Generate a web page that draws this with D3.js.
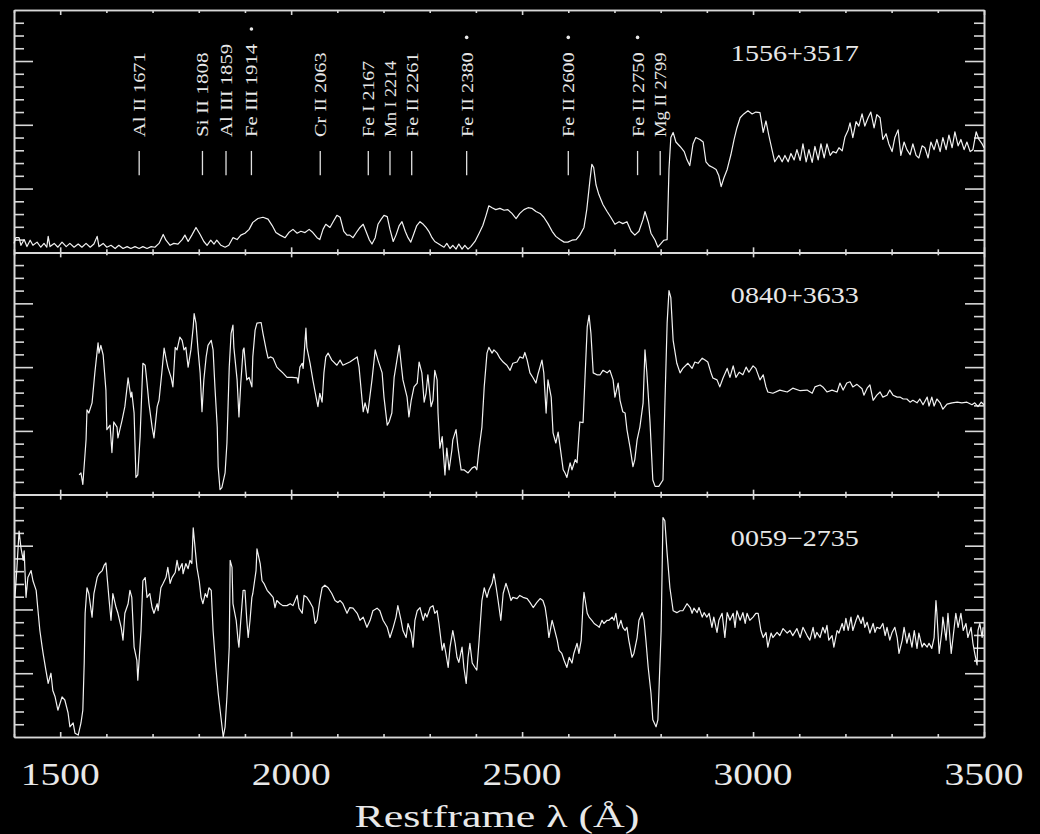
<!DOCTYPE html>
<html>
<head>
<meta charset="utf-8">
<script src="https://cdn.jsdelivr.net/npm/d3@7"></script>
<style>
    body { margin: 0; background: #000; }
    #chart-area { width: 1040px; height: 834px; }
    text { fill: #e8e8e8; font-family: "Liberation Serif", "DejaVu Serif", serif; }
</style>
</head>
<body>
<div id="chart-area"></div>
<script>

// Object names, top to bottom
const objectNames = ["1556+3517", "0840+3633", "0059\u22122735"];

// Absorption line identifications (top panel)
const lineNames = ["Al II 1671", "Si II 1808", "Al III 1859", "Fe III 1914 *", "Cr II 2063", "Fe I 2167",
    "Mn I 2214", "Fe II 2261", "Fe II 2380 *", "Fe II 2600 *", "Fe II 2750 *", "Mg II 2799"];
const lineWaves = [1671, 1808, 1859, 1914, 2063, 2167, 2214, 2261, 2380, 2600, 2750, 2799];

// Tick labels for the wavelength axis
const xTickLabels = [1500, 2000, 2500, 3000, 3500];

// 1556+3517 spectrum (restframe wavelength, relative flux)
const wave1556 = [1400,1404,1411,1415,1422,1428,1435,1441,1450,1458,1465,1471,1474,1478,1487,1495,1504,1513,1521,1530,
    1539,1547,1556,1565,1573,1580,1584,1593,1601,1610,1619,1627,1636,1645,1653,1662,1671,1679,1688,1697,
    1705,1714,1723,1729,1738,1746,1755,1764,1770,1777,1785,1794,1803,1811,1818,1826,1833,1839,1848,1857,
    1865,1874,1883,1891,1900,1909,1917,1928,1939,1950,1959,1967,1976,1987,1995,2004,2013,2021,2030,2039,
    2047,2056,2062,2069,2075,2084,2091,2099,2106,2114,2121,2127,2134,2143,2149,2156,2162,2169,2175,2182,
    2188,2195,2201,2208,2214,2221,2227,2234,2240,2247,2253,2259,2266,2272,2279,2286,2292,2298,2305,2311,
    2318,2324,2331,2337,2344,2350,2357,2363,2370,2376,2383,2389,2398,2407,2415,2422,2428,2435,2443,2452,
    2461,2469,2478,2487,2495,2504,2513,2521,2530,2539,2547,2556,2565,2573,2582,2591,2599,2608,2617,2625,
    2634,2640,2647,2651,2655,2660,2666,2675,2684,2692,2701,2710,2718,2727,2736,2744,2753,2762,2766,2773,
    2779,2788,2794,2801,2807,2814,2818,2822,2827,2833,2842,2851,2857,2863,2870,2876,2885,2892,2898,2905,
    2913,2920,2926,2931,2937,2944,2952,2959,2965,2972,2980,2989,2998,3006,3015,3022,3028,3034,3041,3047,
    3056,3063,3069,3076,3082,3089,3095,3102,3108,3115,3121,3128,3134,3141,3147,3154,3160,3167,3173,3180,
    3186,3193,3199,3206,3210,3216,3223,3229,3236,3242,3249,3255,3262,3268,3275,3281,3288,3294,3301,3307,
    3314,3320,3327,3333,3340,3346,3353,3359,3366,3372,3379,3385,3392,3398,3405,3411,3418,3424,3431,3437,
    3444,3450,3457,3463,3470,3476,3483,3489,3496,3500];
const flux1556 = [0.14,0.23,0.23,0.11,0.20,0.09,0.19,0.11,0.16,0.08,0.14,0.08,0.25,0.09,0.14,0.08,0.16,0.09,0.14,0.08,
    0.13,0.08,0.14,0.08,0.13,0.25,0.09,0.14,0.08,0.11,0.06,0.11,0.06,0.09,0.06,0.09,0.06,0.09,0.06,0.09,
    0.08,0.14,0.28,0.19,0.11,0.14,0.13,0.20,0.27,0.17,0.27,0.39,0.28,0.17,0.11,0.19,0.13,0.19,0.11,0.08,
    0.11,0.23,0.20,0.27,0.30,0.36,0.47,0.53,0.55,0.52,0.42,0.31,0.27,0.23,0.31,0.36,0.30,0.33,0.31,0.36,
    0.31,0.23,0.20,0.36,0.44,0.39,0.48,0.58,0.55,0.33,0.27,0.27,0.23,0.33,0.39,0.44,0.33,0.20,0.13,0.23,
    0.44,0.52,0.58,0.56,0.36,0.17,0.27,0.42,0.48,0.33,0.23,0.16,0.30,0.42,0.48,0.44,0.39,0.33,0.23,0.17,
    0.14,0.11,0.08,0.14,0.06,0.11,0.05,0.13,0.05,0.11,0.05,0.09,0.17,0.30,0.42,0.58,0.73,0.70,0.67,0.69,
    0.66,0.67,0.61,0.53,0.61,0.67,0.70,0.69,0.64,0.61,0.55,0.45,0.33,0.25,0.20,0.16,0.16,0.19,0.20,0.27,
    0.39,0.67,1.14,1.38,1.33,1.06,0.91,0.75,0.64,0.55,0.44,0.48,0.45,0.48,0.33,0.27,0.33,0.52,0.64,0.48,
    0.30,0.19,0.08,0.14,0.19,0.20,1.30,1.80,1.88,1.73,1.66,1.58,1.45,1.36,1.70,1.80,1.77,1.73,1.42,1.36,
    1.33,1.30,1.20,1.03,1.17,1.30,1.53,1.77,1.95,2.11,2.17,2.22,2.17,2.20,2.19,1.88,2.06,1.84,1.61,1.42,
    1.52,1.42,1.52,1.42,1.55,1.45,1.61,1.44,1.70,1.42,1.61,1.41,1.66,1.45,1.70,1.48,1.70,1.52,1.58,1.56,
    1.64,1.59,1.81,1.92,2.03,1.80,2.05,1.98,2.17,1.98,2.11,2.20,1.95,2.16,2.11,1.77,1.86,1.70,1.58,1.80,
    1.92,1.52,1.73,1.61,1.53,1.70,1.52,1.48,1.67,1.64,1.48,1.73,1.61,1.77,1.58,1.80,1.61,1.84,1.64,1.89,
    1.67,1.77,1.61,1.73,1.58,1.61,1.89,1.77,1.70,1.64];

// 0840+3633 spectrum
const wave0840 = [1541,1545,1549,1556,1558,1562,1569,1575,1582,1584,1588,1593,1599,1601,1608,1612,1616,1623,1625,1634,
    1640,1647,1653,1655,1660,1664,1668,1673,1679,1684,1688,1692,1699,1703,1710,1714,1720,1725,1729,1733,
    1740,1744,1749,1753,1759,1764,1768,1772,1777,1783,1788,1790,1794,1798,1803,1807,1811,1816,1820,1827,
    1831,1835,1840,1842,1846,1850,1857,1861,1866,1870,1874,1876,1883,1887,1891,1896,1898,1902,1904,1909,
    1915,1917,1922,1926,1935,1939,1946,1950,1956,1961,1969,1976,1982,1991,2002,2013,2015,2019,2024,2026,
    2032,2034,2041,2047,2054,2058,2062,2067,2071,2075,2080,2088,2099,2106,2112,2127,2143,2147,2153,2156,
    2160,2166,2175,2182,2188,2197,2201,2208,2212,2218,2223,2229,2234,2238,2242,2251,2255,2260,2266,2273,
    2277,2283,2288,2292,2296,2303,2307,2311,2316,2318,2322,2327,2333,2337,2342,2348,2350,2357,2361,2368,
    2374,2383,2392,2398,2402,2407,2413,2418,2424,2428,2435,2439,2446,2452,2459,2467,2474,2480,2489,2495,
    2502,2506,2511,2517,2524,2530,2534,2543,2547,2552,2556,2563,2567,2573,2578,2584,2589,2593,2597,2604,
    2608,2615,2619,2625,2632,2636,2641,2645,2649,2654,2662,2669,2675,2684,2690,2697,2701,2708,2712,2718,
    2723,2727,2734,2740,2744,2749,2755,2762,2766,2770,2777,2783,2788,2796,2805,2809,2814,2818,2822,2827,
    2835,2842,2848,2859,2868,2874,2881,2890,2896,2902,2909,2913,2922,2928,2935,2944,2950,2957,2963,2970,
    2978,2985,2991,3000,3006,3015,3022,3028,3032,3043,3058,3074,3086,3102,3117,3128,3134,3145,3151,3160,
    3171,3182,3188,3195,3203,3210,3216,3225,3236,3240,3247,3253,3260,3268,3275,3281,3290,3296,3303,3312,
    3318,3325,3333,3340,3346,3355,3361,3368,3377,3381,3387,3392,3398,3405,3411,3420,3431,3442,3452,3463,
    3474,3480,3487,3494,3500];
const flux0840 = [0.31,0.34,0.16,0.86,1.33,1.28,1.44,1.91,2.38,2.22,2.34,2.19,1.64,1.02,1.09,0.66,1.14,1.06,0.89,1.17,
    1.38,1.83,1.53,1.61,1.28,0.27,0.31,0.91,2.06,2.03,1.75,1.44,1.06,0.89,1.38,1.48,1.91,2.30,2.14,2.00,
    1.84,1.69,2.31,2.27,2.47,2.42,2.27,2.31,2.00,2.27,2.63,2.84,2.69,2.31,1.91,1.30,1.80,2.16,2.34,2.42,
    2.27,1.69,1.06,0.44,0.08,0.11,0.34,0.81,2.00,2.53,2.66,2.31,1.80,1.22,1.75,2.27,2.30,1.95,1.80,1.84,
    1.69,2.16,2.58,2.69,2.70,2.53,2.27,2.14,2.16,2.14,2.00,1.95,1.91,1.84,1.84,1.83,1.75,2.00,2.06,1.98,
    2.61,2.31,2.06,1.80,1.53,1.38,1.59,1.45,1.91,2.16,2.22,2.11,2.03,2.11,2.03,2.08,2.16,2.00,1.53,1.30,
    1.44,1.28,1.80,2.27,2.11,1.91,1.53,1.09,1.14,1.28,1.84,2.11,2.34,2.06,1.80,1.53,1.22,1.48,1.69,1.75,
    2.08,1.91,1.45,1.59,1.88,1.38,1.48,1.95,1.80,1.28,0.73,0.91,0.31,0.73,0.39,0.70,0.86,1.02,0.75,0.39,
    0.39,0.34,0.42,0.44,0.39,0.73,1.06,1.69,2.22,2.31,2.22,2.27,2.22,2.14,2.08,2.03,1.95,2.06,2.08,2.16,
    2.14,2.23,2.11,1.91,1.83,1.75,1.88,2.11,1.91,1.28,1.80,1.53,0.97,0.81,0.98,0.66,0.39,0.34,0.27,0.50,
    0.39,0.55,0.50,1.14,1.13,1.80,2.63,2.81,2.53,1.91,1.88,1.88,1.95,1.91,1.95,1.80,1.53,1.75,1.48,1.30,
    1.28,1.02,0.73,0.44,0.55,0.86,1.06,1.44,2.27,1.92,1.13,0.23,0.13,0.13,0.23,1.38,2.69,3.20,3.09,2.42,
    2.06,1.91,1.98,2.06,1.98,2.08,2.06,2.14,2.11,2.08,1.91,1.83,1.80,1.69,1.83,1.98,1.84,2.02,1.84,1.92,
    1.88,2.00,1.92,2.02,1.98,1.80,1.88,1.69,1.61,1.59,1.64,1.61,1.67,1.63,1.64,1.59,1.69,1.72,1.69,1.61,
    1.64,1.61,1.75,1.64,1.75,1.77,1.69,1.73,1.66,1.56,1.67,1.72,1.48,1.56,1.61,1.53,1.56,1.64,1.56,1.53,
    1.53,1.50,1.50,1.45,1.48,1.44,1.50,1.41,1.53,1.39,1.53,1.39,1.50,1.44,1.34,1.42,1.44,1.45,1.44,1.45,
    1.41,1.44,1.38,1.45,1.41];

// 0059-2735 spectrum
const wave0059 = [1402,1406,1411,1415,1420,1422,1426,1430,1437,1441,1448,1452,1456,1461,1463,1469,1474,1480,1484,1489,
    1495,1504,1510,1517,1521,1528,1532,1539,1545,1549,1552,1554,1558,1562,1569,1573,1580,1584,1591,1595,
    1599,1601,1606,1610,1614,1621,1625,1632,1636,1640,1647,1651,1655,1660,1666,1668,1675,1679,1684,1688,
    1694,1699,1703,1710,1712,1718,1723,1729,1733,1738,1742,1749,1753,1757,1764,1766,1772,1777,1781,1785,
    1788,1792,1796,1801,1805,1809,1814,1818,1822,1827,1831,1837,1842,1848,1853,1857,1861,1866,1868,1872,
    1874,1881,1885,1887,1891,1896,1900,1904,1907,1911,1915,1917,1924,1926,1933,1937,1941,1948,1954,1961,
    1965,1969,1976,1982,1991,1998,2004,2013,2017,2024,2028,2034,2041,2047,2052,2056,2062,2067,2073,2080,
    2088,2095,2101,2106,2112,2121,2127,2134,2143,2149,2156,2164,2171,2177,2186,2192,2199,2208,2214,2221,
    2227,2231,2238,2242,2249,2253,2260,2264,2268,2273,2279,2286,2290,2294,2301,2307,2311,2316,2320,2327,
    2331,2335,2340,2344,2350,2355,2359,2363,2370,2374,2379,2383,2387,2392,2398,2402,2407,2413,2418,2424,
    2428,2435,2439,2444,2448,2454,2459,2465,2470,2476,2480,2489,2495,2502,2511,2517,2524,2532,2539,2545,
    2550,2554,2558,2565,2569,2576,2580,2586,2591,2597,2602,2608,2612,2619,2623,2628,2632,2634,2641,2645,
    2651,2656,2662,2667,2673,2677,2684,2688,2695,2699,2703,2708,2714,2718,2723,2727,2731,2738,2742,2749,
    2753,2760,2764,2768,2773,2779,2783,2790,2794,2801,2805,2809,2814,2820,2827,2835,2842,2848,2857,2864,
    2868,2872,2879,2883,2890,2894,2900,2905,2911,2915,2922,2926,2933,2939,2944,2950,2957,2961,2965,2972,
    2978,2983,2987,2993,3000,3006,3011,3017,3022,3028,3032,3039,3043,3052,3058,3065,3074,3080,3086,3095,
    3102,3108,3117,3123,3130,3134,3138,3145,3151,3156,3160,3164,3171,3175,3182,3186,3193,3197,3201,3206,
    3212,3216,3223,3227,3234,3238,3242,3247,3253,3260,3264,3268,3275,3281,3286,3290,3296,3301,3307,3312,
    3316,3323,3327,3333,3338,3344,3349,3355,3359,3366,3370,3377,3381,3387,3392,3396,3398,3403,3409,3411,
    3418,3422,3429,3433,3439,3444,3450,3455,3461,3465,3472,3476,3480,3485,3487,3491,3496,3498];
const flux0059 = [2.19,2.61,3.23,2.97,2.77,2.92,2.19,2.50,2.61,2.45,2.30,1.98,1.67,1.41,1.31,1.05,0.84,1.00,0.73,0.63,
    0.42,0.63,0.58,0.38,0.16,0.22,0.06,0.03,0.22,0.42,1.16,1.94,2.34,2.25,1.88,2.25,2.50,2.56,2.61,2.69,
    2.73,2.56,2.14,1.83,2.25,2.03,1.94,1.72,1.52,1.94,2.09,2.30,2.19,1.41,1.20,0.89,1.67,2.45,2.50,2.19,
    2.25,2.03,1.94,2.09,1.98,2.34,2.41,2.50,2.66,2.41,2.50,2.58,2.77,2.61,2.72,2.56,2.72,2.64,2.77,2.72,
    3.28,2.97,2.66,2.45,2.19,2.09,2.25,2.19,2.34,2.30,1.67,1.09,0.69,0.31,0.00,0.16,0.63,1.41,2.77,2.66,
    2.09,1.83,1.52,1.41,1.83,2.30,2.30,1.83,1.56,1.83,2.19,2.25,2.61,2.95,2.72,2.45,2.41,2.30,2.25,2.19,
    2.03,2.14,2.09,2.06,2.06,2.09,2.06,2.22,2.02,1.94,2.22,2.19,2.11,2.03,1.78,1.83,2.14,2.34,2.38,2.34,
    2.25,2.14,2.11,2.14,2.09,1.94,2.03,2.02,1.94,1.83,1.88,1.72,1.83,1.98,2.02,1.98,1.83,1.72,1.56,1.72,
    1.88,2.06,1.83,1.67,1.56,1.78,1.63,1.41,1.83,1.98,2.03,1.83,1.94,1.88,2.03,2.06,1.94,1.98,1.78,1.36,
    1.47,1.31,1.09,1.41,1.67,1.47,1.25,1.17,1.41,1.09,0.84,1.25,1.47,1.16,1.09,1.05,1.52,2.14,2.34,2.19,
    2.30,2.41,2.56,2.34,2.14,1.83,2.25,2.41,2.30,2.14,2.19,2.17,2.22,2.19,2.17,2.11,2.03,2.11,2.17,2.14,
    2.03,1.83,1.56,1.83,1.72,1.52,1.36,1.31,1.20,1.09,1.25,1.16,1.31,1.47,1.31,1.52,2.09,2.27,1.94,1.88,
    1.83,1.78,1.75,1.72,1.83,1.78,1.83,1.83,1.88,1.83,1.94,1.70,1.83,1.72,1.67,1.72,1.52,1.25,1.31,1.56,
    1.83,1.95,1.83,1.52,1.09,0.69,0.27,0.16,0.27,1.67,3.44,3.39,2.88,2.34,1.98,1.95,1.98,1.98,2.09,2.03,
    1.94,2.02,1.95,2.03,1.88,1.95,1.88,1.94,1.72,1.88,1.64,1.83,1.94,1.56,1.95,1.83,1.94,1.72,1.98,1.83,
    1.95,1.78,1.94,1.83,1.88,1.94,1.94,1.67,1.56,1.64,1.41,1.63,1.56,1.64,1.59,1.70,1.63,1.67,1.59,1.70,
    1.56,1.72,1.59,1.52,1.72,1.55,1.64,1.56,1.72,1.63,1.75,1.52,1.59,1.41,1.67,1.63,1.78,1.67,1.86,1.67,
    1.88,1.67,1.83,1.91,1.78,1.88,1.72,1.80,1.63,1.78,1.64,1.72,1.70,1.78,1.59,1.72,1.52,1.64,1.72,1.56,
    1.31,1.52,1.72,1.47,1.63,1.41,1.67,1.39,1.63,1.41,1.47,1.41,1.47,1.39,1.56,2.14,1.94,1.31,1.67,1.88,
    1.52,1.94,1.31,1.56,1.94,1.72,1.94,1.67,1.78,1.56,1.72,1.47,1.31,1.13,1.67,1.78,1.56,1.72];


class SpectraVis {

    constructor(parentElement) {
        this.parentElement = parentElement;
        this.initVis();
    }

    initVis() {
        let vis = this;

        vis.margin = {top: 10, right: 56, bottom: 97, left: 14};
        vis.width = 1040 - vis.margin.left - vis.margin.right;
        vis.height = 834 - vis.margin.top - vis.margin.bottom;
        vis.panelHeight = vis.height / 3;

        vis.svg = d3.select(`#${vis.parentElement}`).append("svg")
            .attr("width", 1040)
            .attr("height", 834)
            .style("background", "#000")
            .append("g")
            .attr("transform", `translate(${vis.margin.left},${vis.margin.top})`);

        // Scales
        vis.x = d3.scaleLinear().domain([1400, 3500]).range([0, vis.width]);
        vis.y = d3.scaleLinear().domain([0, 3.8]).range([vis.panelHeight, 0]);

        vis.xMajor = d3.range(1500, 3501, 500);
        vis.xMinor = d3.range(1400, 3501, 100).filter(d => d % 500 !== 0);
        vis.yMajor = [1, 2, 3];
        vis.yMinor = d3.range(1, 19).filter(i => i % 5 !== 0).map(i => i / 5);

        vis.line = d3.line()
            .x(d => vis.x(d[0]))
            .y(d => vis.y(d[1]));

        vis.wrangleData();
    }

    wrangleData() {
        let vis = this;

        vis.spectra = [
            {name: objectNames[0], points: d3.zip(wave1556, flux1556)},
            {name: objectNames[1], points: d3.zip(wave0840, flux0840)},
            {name: objectNames[2], points: d3.zip(wave0059, flux0059)}
        ];

        // split off the trailing asterisk so it can be drawn small
        vis.lineIds = lineNames.map((n, i) => ({
            label: n.replace(" *", ""),
            star: n.endsWith("*"),
            wave: lineWaves[i]
        }));

        vis.updateVis();
    }

    // inward-pointing ticks on all four sides of a panel
    drawFrame(g) {
        let vis = this;
        const noLabel = () => "";

        const addAxis = (axis, transform) => {
            g.append("g")
                .attr("class", "frame-axis")
                .attr("transform", transform)
                .call(axis.tickFormat(noLabel).tickSizeOuter(0));
        };

        addAxis(d3.axisTop(vis.x).tickValues(vis.xMajor).tickSizeInner(5), `translate(0,${vis.panelHeight})`);
        addAxis(d3.axisTop(vis.x).tickValues(vis.xMinor).tickSizeInner(3), `translate(0,${vis.panelHeight})`);
        addAxis(d3.axisBottom(vis.x).tickValues(vis.xMajor).tickSizeInner(5), "translate(0,0)");
        addAxis(d3.axisBottom(vis.x).tickValues(vis.xMinor).tickSizeInner(3), "translate(0,0)");
        addAxis(d3.axisRight(vis.y).tickValues(vis.yMajor).tickSizeInner(19), "translate(0,0)");
        addAxis(d3.axisRight(vis.y).tickValues(vis.yMinor).tickSizeInner(10), "translate(0,0)");
        addAxis(d3.axisLeft(vis.y).tickValues(vis.yMajor).tickSizeInner(19), `translate(${vis.width},0)`);
        addAxis(d3.axisLeft(vis.y).tickValues(vis.yMinor).tickSizeInner(10), `translate(${vis.width},0)`);
    }

    updateVis() {
        let vis = this;

        vis.panels = vis.svg.selectAll(".panel")
            .data(vis.spectra)
            .enter().append("g")
            .attr("class", "panel")
            .attr("transform", (d, i) => `translate(0,${i * vis.panelHeight})`);

        vis.panels.each(function() { vis.drawFrame(d3.select(this)); });

        vis.svg.selectAll(".frame-axis path, .frame-axis line")
            .attr("stroke", "#d8d8d8")
            .attr("stroke-width", 1.6);

        // spectra
        vis.panels.append("path")
            .attr("d", d => vis.line(d.points))
            .attr("fill", "none")
            .attr("stroke", "#f2f2f2")
            .attr("stroke-width", 1.2)
            .attr("stroke-linejoin", "round");

        // object names
        vis.panels.append("text")
            .attr("x", vis.x(2952))
            .attr("y", vis.y(3.0))
            .attr("textLength", 128)
            .attr("lengthAdjust", "spacingAndGlyphs")
            .style("font-size", "23px")
            .text(d => d.name);

        // line identifications in the top panel
        let top = vis.panels.filter((d, i) => i === 0);
        let ids = top.selectAll(".line-id")
            .data(vis.lineIds)
            .enter().append("g")
            .attr("class", "line-id")
            .attr("transform", d => `translate(${vis.x(d.wave)},${vis.y(1.81)}) rotate(-90)`);

        ids.append("line")
            .attr("x1", vis.y(1.81) - vis.y(1.59))
            .attr("x2", vis.y(1.81) - vis.y(1.21))
            .attr("stroke", "#e0e0e0")
            .attr("stroke-width", 1.3);

        ids.append("text")
            .attr("y", 6)
            .attr("textLength", d => d.label.length * 8.45)
            .attr("lengthAdjust", "spacingAndGlyphs")
            .style("font-size", "17px")
            .text(d => d.label);

        ids.filter(d => d.star).append("circle")
            .attr("cx", d => d.label.length * 8.45 + 15)
            .attr("cy", 0)
            .attr("r", 1.8)
            .attr("fill", "#e8e8e8");

        // wavelength tick labels
        vis.svg.selectAll(".x-label")
            .data(xTickLabels)
            .enter().append("text")
            .attr("class", "x-label")
            .attr("x", d => vis.x(d))
            .attr("y", vis.height + 48)
            .attr("text-anchor", "middle")
            .attr("textLength", 79)
            .attr("lengthAdjust", "spacingAndGlyphs")
            .style("font-size", "31px")
            .text(d => d);

        vis.svg.append("text")
            .attr("x", vis.width / 2 - 2)
            .attr("y", vis.height + 90)
            .attr("text-anchor", "middle")
            .attr("textLength", 285)
            .attr("lengthAdjust", "spacingAndGlyphs")
            .style("font-size", "31px")
            .text("Restframe \u03bb (\u00c5)");
    }
}

new SpectraVis("chart-area");
</script>
</body>
</html>
